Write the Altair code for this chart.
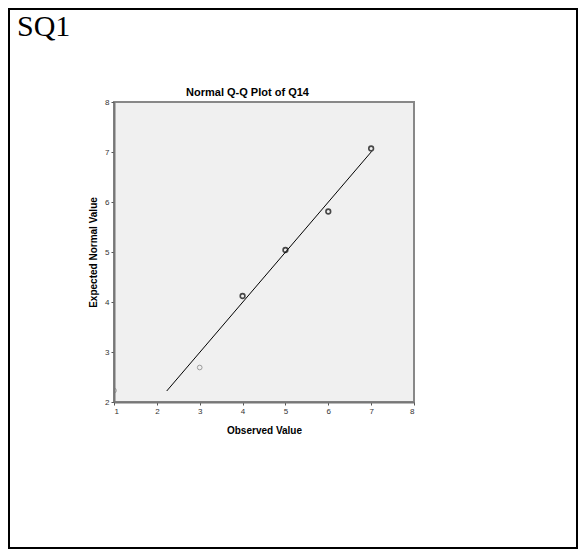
import altair as alt
import pandas as pd

# ---- data ----
observed = [1, 3, 4, 5, 6, 7]
expected = [2.23, 2.69, 4.12, 5.04, 5.81, 7.07]
tone = ["light", "light", "dark", "dark", "dark", "dark"]
line_x = [2.23, 7.01]
line_y = [2.22, 7.01]
x_ticks = [1, 2, 3, 4, 5, 6, 7, 8]
y_ticks = [2, 3, 4, 5, 6, 7, 8]
chart_title = "Normal Q-Q Plot of Q14"
x_title = "Observed Value"
y_title = "Expected Normal Value"
doc_label = "SQ1"

pts = pd.DataFrame({"observed": observed, "expected": expected, "tone": tone})
ln = pd.DataFrame({"observed": line_x, "expected": line_y})
one = pd.DataFrame({"k": [0]})

xs = alt.Scale(domain=[1, 8], nice=False, zero=False)
ys = alt.Scale(domain=[2, 8], nice=False, zero=False)

x_axis = alt.Axis(values=x_ticks, grid=False, tickSize=3, tickColor="#555",
                  domainColor="#777", domainWidth=2, labelFontSize=8,
                  labelColor="#333", labelPadding=2, labelFont="Liberation Sans",
                  title=x_title, titleFont="Liberation Sans", titleFontSize=10,
                  titleFontWeight="bold", titleColor="#000", titleX=150, titleY=31,
                  titleBaseline="alphabetic", format="d")
y_axis = alt.Axis(values=y_ticks, grid=False, tickSize=3, tickColor="#555",
                  domainColor="#777", domainWidth=2, labelFontSize=8,
                  labelColor="#333", labelPadding=2, labelFont="Liberation Sans",
                  title=y_title, titleFont="Liberation Sans", titleFontSize=10,
                  titleFontWeight="bold", titleColor="#000", titleX=-18, titleY=150,
                  titleAngle=270, titleBaseline="alphabetic", format="d")

line = alt.Chart(ln).mark_line(color="#000", strokeWidth=1).encode(
    x=alt.X("observed:Q", scale=xs, axis=x_axis),
    y=alt.Y("expected:Q", scale=ys, axis=y_axis),
)

points = alt.Chart(pts).mark_point(shape="circle", filled=False, size=22, clip=True).encode(
    x=alt.X("observed:Q", scale=xs),
    y=alt.Y("expected:Q", scale=ys),
    stroke=alt.Stroke("tone:N", scale=alt.Scale(domain=["light", "dark"], range=["#777", "#000"]), legend=None),
    strokeWidth=alt.StrokeWidth("tone:N", scale=alt.Scale(domain=["light", "dark"], range=[1, 1.6]), legend=None),
)

title = alt.Chart(one).mark_text(font="Liberation Sans", fontSize=11, fontWeight="bold",
                                 align="center", baseline="alphabetic", color="#000").encode(
    x=alt.value(133.5), y=alt.value(-6), text=alt.value(chart_title))

label = alt.Chart(one).mark_text(font="Liberation Serif", fontSize=30, align="left",
                                 baseline="alphabetic", color="#000").encode(
    x=alt.value(-97), y=alt.value(-66), text=alt.value(doc_label))

border = alt.Chart(one).mark_rect(fill=None, stroke="#000", strokeWidth=2).encode(
    x=alt.value(-105), x2=alt.value(463), y=alt.value(-93), y2=alt.value(446))

chart = alt.layer(border, label, title, line, points).properties(
    width=300, height=300,
    autosize=alt.AutoSizeParams(type="none"),
    padding={"left": 106, "top": 94, "right": 164, "bottom": 147},
    background="#ffffff",
).configure_view(stroke="#888", strokeWidth=2, fill="#f0f0f0")

chart.save("out.html", embed_options={"renderer": "svg", "actions": False})
